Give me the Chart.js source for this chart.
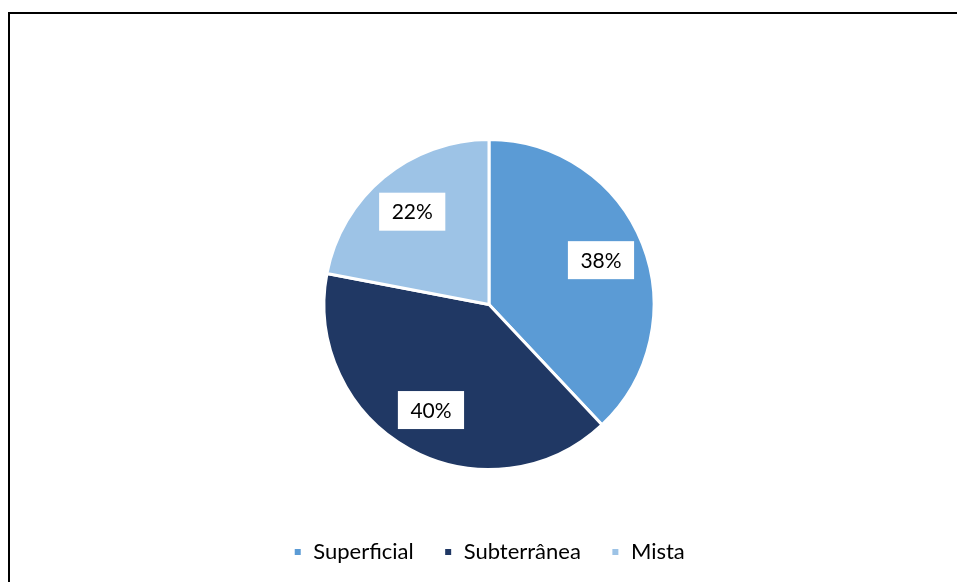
<!DOCTYPE html>
<html>
<head>
<meta charset="utf-8">
<script src="https://cdn.jsdelivr.net/npm/chart.js@4"></script>
<style>
  html, body { margin: 0; padding: 0; background: #fff; }
  #frame {
    position: absolute; left: 8px; top: 12px; width: 960px; height: 580px;
    border-top: 2px solid #000; border-left: 2px solid #000;
  }
  #wrap { position: absolute; left: 0; top: 0; width: 957px; height: 582px; }
</style>
</head>
<body>
<div id="frame"></div>
<div id="wrap"><canvas id="pieChart"></canvas></div>
<script>
const categories = ["Superficial", "Subterrânea", "Mista"];
const shares = [38, 40, 22];
const sliceColors = ["#5B9BD5", "#203864", "#9DC3E6"];

const FONT = "Lato, 'Open Sans', sans-serif";

// caixas brancas com a percentagem
const boxLabels = {
  id: "boxLabels",
  afterDatasetsDraw(chart) {
    const ctx = chart.ctx;
    const meta = chart.getDatasetMeta(0);
    ctx.save();
    ctx.font = "21px " + FONT;
    ctx.textAlign = "center";
    ctx.textBaseline = "middle";
    meta.data.forEach((arc, i) => {
      const mid = (arc.startAngle + arc.endAngle) / 2;
      const d = arc.outerRadius * 0.73;
      const x = arc.x + Math.cos(mid) * d;
      const y = arc.y + Math.sin(mid) * d;
      const txt = shares[i] + "%";
      const w = ctx.measureText(txt).width + 25;
      const h = 38;
      ctx.fillStyle = "#fff";
      ctx.fillRect(x - w / 2, y - h / 2, w, h);
      ctx.fillStyle = "#000";
      ctx.fillText(txt, x, y + 1);
    });
    ctx.restore();
  }
};

new Chart(document.getElementById("pieChart"), {
  type: "pie",
  data: {
    labels: categories,
    datasets: [{
      data: shares,
      backgroundColor: sliceColors,
      borderColor: "#fff",
      borderWidth: 3,
      radius: 165
    }]
  },
  options: {
    responsive: true,
    maintainAspectRatio: false,
    animation: false,
    layout: { padding: { top: 98, left: 21, right: 0, bottom: 9 } },
    plugins: {
      tooltip: { enabled: false },
      legend: {
        position: "bottom",
        labels: {
          boxWidth: 9,
          boxHeight: 9,
          padding: 30,
          color: "#000",
          font: { family: FONT, size: 22 }
        }
      }
    }
  },
  plugins: [boxLabels]
});
</script>
</body>
</html>
